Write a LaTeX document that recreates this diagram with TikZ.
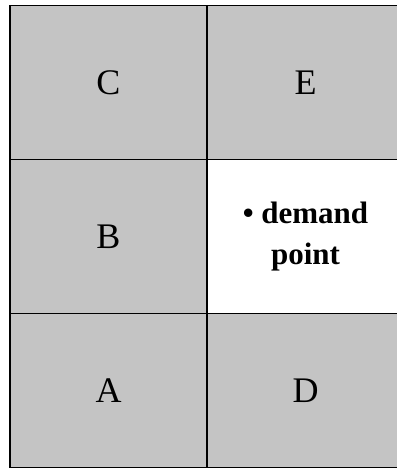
\documentclass[tikz,border=0pt]{standalone}
\usepackage{fontspec}
\setmainfont{Liberation Serif}
\usepackage{tikz}
\usetikzlibrary{positioning}
\definecolor{cellgray}{RGB}{196,196,196}

\begin{document}
\begin{tikzpicture}[x=1pt,y=1pt,
    every node/.style={font=\fontsize{36}{40}\selectfont},
    cell/.style={draw,line width=1.8pt,fill=cellgray,inner sep=0pt,
                 minimum width=197pt,minimum height=154pt}]
  \useasboundingbox (0,0) rectangle (396,468);

  % left column
  \node[cell] (C) at (108.5,385.5) {C};
  \node[cell] (B) at (108.5,231.5) {B};
  \node[cell] (A) at (108.5,77.5)  {A};

  % right column
  \node[cell] (E) at (305.5,385.5) {E};
  \node[cell,fill=white,align=center,
        font=\fontsize{31}{41}\selectfont\bfseries]
    (dp) at (305.5,231.5) {\textbullet{} demand\\point};
  \node[cell] (D) at (305.5,77.5)  {D};
\end{tikzpicture}
\end{document}
